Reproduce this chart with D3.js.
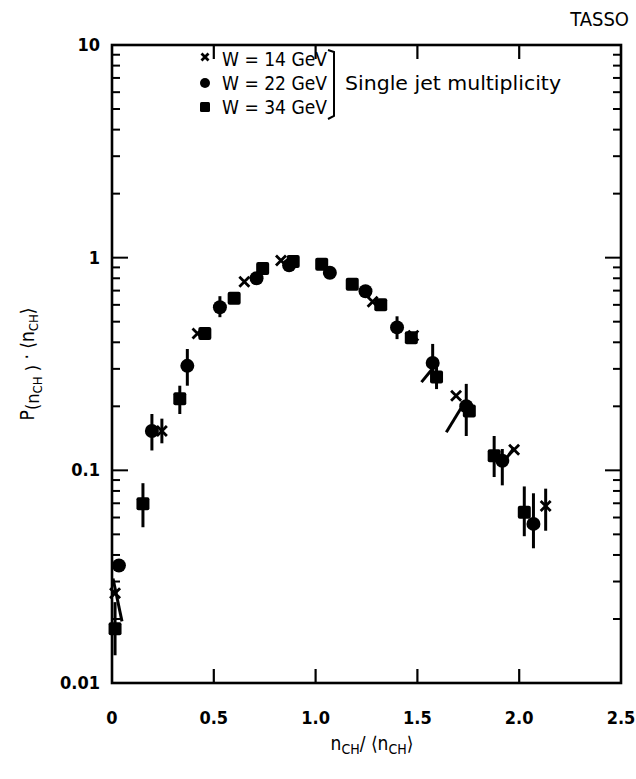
<!DOCTYPE html>
<html><head><meta charset="utf-8">
<script src="https://cdn.jsdelivr.net/npm/d3@7"></script>
<style>body{margin:0;background:#fff}svg{display:block}text{font-family:"DejaVu Sans Condensed","Liberation Sans Narrow",sans-serif;fill:#000}</style>
</head><body>
<svg id="c" width="636" height="779"></svg>
<script>
// W = 14 GeV (crosses)
const x14 = [0.015, 0.245, 0.42, 0.65, 0.83, 1.28, 1.48, 1.69, 1.975, 2.13];
const y14 = [0.0264, 0.153, 0.44, 0.77, 0.97, 0.62, 0.43, 0.224, 0.125, 0.068];
const lo14 = [null, 0.134, null, null, null, null, null, null, null, 0.052];
const hi14 = [null, 0.175, null, null, null, null, null, null, null, 0.082];
// slanted bars seen on the 14 GeV points: [x1, y1, x2, y2]
const slant14 = [[0.005, 0.031, 0.049, 0.0195], [1.52, 0.26, 1.593, 0.316], [1.642, 0.151, 1.72, 0.2], [1.926, 0.11, 1.975, 0.128]];
// W = 22 GeV (circles)
const x22 = [0.034, 0.196, 0.37, 0.53, 0.71, 0.87, 1.07, 1.245, 1.40, 1.575, 1.74, 1.917, 2.07];
const y22 = [0.0357, 0.153, 0.31, 0.585, 0.80, 0.92, 0.85, 0.695, 0.47, 0.32, 0.20, 0.111, 0.056];
const lo22 = [null, 0.124, 0.25, 0.525, null, null, null, null, 0.414, 0.277, 0.145, 0.085, 0.043];
const hi22 = [null, 0.184, 0.372, 0.659, null, null, null, null, 0.53, 0.393, 0.255, 0.126, 0.078];
// W = 34 GeV (squares)
const x34 = [0.015, 0.152, 0.333, 0.456, 0.60, 0.74, 0.89, 1.03, 1.18, 1.32, 1.47, 1.594, 1.755, 1.877, 2.025];
const y34 = [0.018, 0.0697, 0.217, 0.44, 0.645, 0.89, 0.96, 0.93, 0.75, 0.60, 0.42, 0.275, 0.19, 0.117, 0.0636];
const lo34 = [0.0135, 0.054, 0.184, null, null, null, null, null, null, null, null, 0.241, null, 0.093, 0.049];
const hi34 = [0.024, 0.087, 0.25, null, null, null, null, null, null, null, null, 0.306, null, 0.145, 0.084];

const xTicks = [0, 0.5, 1.0, 1.5, 2.0, 2.5];
const xTickLabels = ["0", "0.5", "1.0", "1.5", "2.0", "2.5"];
const yTicks = [0.01, 0.1, 1, 10];
const yTickLabels = ["0.01", "0.1", "1", "10"];
const legendLabels = ["W = 14 GeV", "W = 22 GeV", "W = 34 GeV"];

const svg = d3.select("#c");
const L = 112, R = 621, T = 45, B = 683;
const x = d3.scaleLinear().domain([0, 2.5]).range([L, R]);
const y = d3.scaleLog().domain([0.01, 10]).range([B, T]);

// frame
svg.append("rect").attr("x", L).attr("y", T).attr("width", R - L).attr("height", B - T)
  .attr("fill", "none").attr("stroke", "#000").attr("stroke-width", 2.6);

// log ticks left & right
y.ticks().forEach(v => {
  const lg = Math.log10(v);
  const major = Math.abs(lg - Math.round(lg)) < 1e-9;
  if (v <= 0.01 || v >= 10) return;
  const len = major ? 16 : 8;
  svg.append("line").attr("x1", L).attr("x2", L + len).attr("y1", y(v)).attr("y2", y(v)).attr("stroke", "#000").attr("stroke-width", 2);
  svg.append("line").attr("x1", R).attr("x2", R - len).attr("y1", y(v)).attr("y2", y(v)).attr("stroke", "#000").attr("stroke-width", 2);
});
// x ticks top & bottom
xTicks.forEach(v => {
  if (v === 0 || v === 2.5) return;
  svg.append("line").attr("x1", x(v)).attr("x2", x(v)).attr("y1", T).attr("y2", T + 14).attr("stroke", "#000").attr("stroke-width", 2.2);
  svg.append("line").attr("x1", x(v)).attr("x2", x(v)).attr("y1", B).attr("y2", B - 14).attr("stroke", "#000").attr("stroke-width", 2.2);
});
// tick labels
xTicks.forEach((v, i) => {
  svg.append("text").attr("x", x(v)).attr("y", 724).attr("text-anchor", "middle")
    .attr("font-size", 18).attr("font-weight", "bold").text(xTickLabels[i]);
});
yTicks.forEach((v, i) => {
  svg.append("text").attr("x", 100).attr("y", y(v) + 6).attr("text-anchor", "end")
    .attr("font-size", 18).attr("font-weight", "bold").text(yTickLabels[i]);
});

// axis titles
const yl = svg.append("text").attr("transform", "translate(34,364) rotate(-90)")
  .attr("text-anchor", "middle").attr("font-size", 19);
yl.append("tspan").text("P");
yl.append("tspan").attr("dy", 5).attr("font-size", 18).text("(n");
yl.append("tspan").attr("dy", 3).attr("font-size", 13).text("CH");
yl.append("tspan").attr("dy", -3).attr("font-size", 18).text(" )");
yl.append("tspan").attr("dy", -5).text("  ·  ⟨n");
yl.append("tspan").attr("dy", 4).attr("font-size", 13).text("CH");
yl.append("tspan").attr("dy", -4).text("⟩");

const xl = svg.append("text").attr("x", 372).attr("y", 750).attr("text-anchor", "middle").attr("font-size", 19);
xl.append("tspan").text("n");
xl.append("tspan").attr("dy", 4).attr("font-size", 14).text("CH");
xl.append("tspan").attr("dy", -4).text("/ ⟨n");
xl.append("tspan").attr("dy", 4).attr("font-size", 14).text("CH");
xl.append("tspan").attr("dy", -4).text("⟩");

svg.append("text").attr("x", 629).attr("y", 26).attr("text-anchor", "end").attr("font-size", 20).text("TASSO");

// error bars
function bars(xs, lo, hi) {
  xs.forEach((xv, i) => {
    if (lo[i] == null) return;
    svg.append("line").attr("x1", x(xv)).attr("x2", x(xv)).attr("y1", y(lo[i])).attr("y2", y(hi[i]))
      .attr("stroke", "#000").attr("stroke-width", 3);
  });
}
bars(x22, lo22, hi22); bars(x34, lo34, hi34); bars(x14, lo14, hi14);
slant14.forEach(s => {
  svg.append("line").attr("x1", x(s[0])).attr("y1", y(s[1])).attr("x2", x(s[2])).attr("y2", y(s[3]))
    .attr("stroke", "#000").attr("stroke-width", 3);
});

// markers
function cross(g, cx, cy, s) {
  g.append("path").attr("d", `M${cx - s},${cy - s}L${cx + s},${cy + s}M${cx - s},${cy + s}L${cx + s},${cy - s}`)
    .attr("stroke", "#000").attr("stroke-width", 2.8);
}
x34.forEach((xv, i) => {
  svg.append("rect").attr("x", x(xv) - 6.5).attr("y", y(y34[i]) - 6.5).attr("width", 13).attr("height", 13).attr("rx", 2).attr("fill", "#000");
});
x22.forEach((xv, i) => {
  svg.append("circle").attr("cx", x(xv)).attr("cy", y(y22[i])).attr("r", 7).attr("fill", "#000");
});
x14.forEach((xv, i) => cross(svg, x(xv), y(y14[i]), 5));

// legend
const legY = [59, 83, 107];
cross(svg, 205, legY[0] - 2, 3.5);
svg.append("circle").attr("cx", 205).attr("cy", legY[1]).attr("r", 5).attr("fill", "#000");
svg.append("rect").attr("x", 200).attr("y", legY[2] - 5).attr("width", 10).attr("height", 10).attr("rx", 1.5).attr("fill", "#000");
legendLabels.forEach((t, i) => {
  svg.append("text").attr("x", 222).attr("y", legY[i] + 7).attr("font-size", 20)
    .attr("textLength", 105).attr("lengthAdjust", "spacingAndGlyphs").text(t);
});
svg.append("path").attr("d", "M328,50 L334,52 L334,116 L328,119").attr("fill", "none").attr("stroke", "#000").attr("stroke-width", 2);
svg.append("text").attr("x", 345).attr("y", 90).attr("font-size", 20)
  .attr("textLength", 216).attr("lengthAdjust", "spacingAndGlyphs").text("Single jet multiplicity");
</script>
</body></html>
